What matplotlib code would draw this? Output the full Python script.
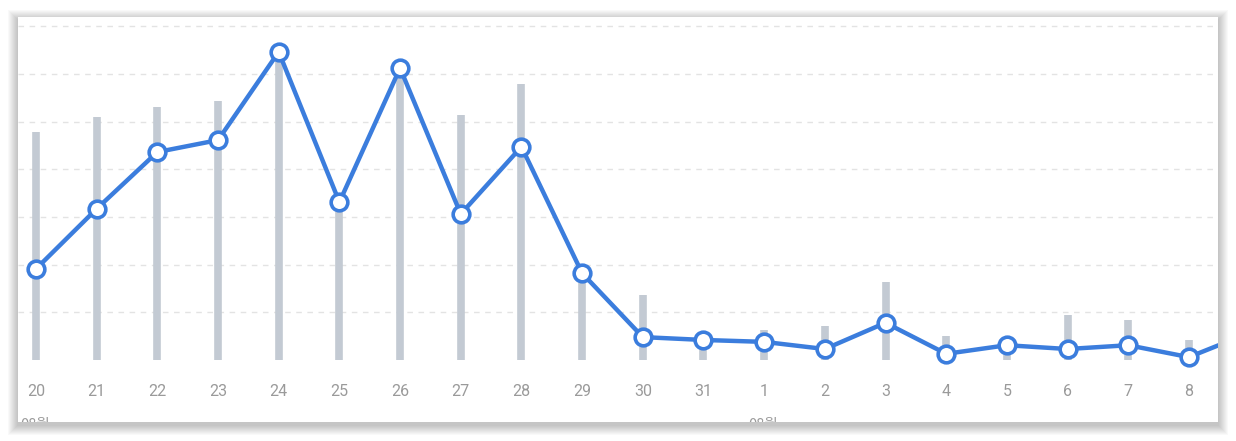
import matplotlib
matplotlib.use("Agg")
import matplotlib.pyplot as plt
from matplotlib.patches import FancyBboxPatch
import numpy as np

# days shown on the x axis (July 20 .. August 9)
days = ["20", "21", "22", "23", "24", "25", "26", "27", "28", "29", "30", "31",
        "1", "2", "3", "4", "5", "6", "7", "8", "9"]
month_labels = {0: "08월", 12: "08월"}

line_vals = [19.1, 31.7, 43.6, 46.1, 64.6, 33.1, 61.2, 30.6, 44.7, 18.2, 4.8,
             4.2, 3.8, 2.3, 7.8, 1.3, 3.1, 2.3, 3.1, 0.6, 5.7]
bar_vals = [47.8, 50.9, 53.0, 54.3, 63.0, 32.0, 61.0, 51.4, 57.9, 17.0, 13.6,
            3.5, 6.3, 7.1, 16.4, 5.0, 2.5, 9.4, 8.4, 4.2, 4.0]
grid_levels = [10, 20, 30, 40, 50, 60, 70]

W, H = 1236, 441
fig = plt.figure(figsize=(W / 100, H / 100), dpi=100)
fig.patch.set_facecolor("white")

# card (in pixel coords -> figure fraction)
cx0, cx1, cy_top, cy_bot = 18, 1218, 17, 422
left, right = cx0 / W, cx1 / W
bottom, top = 1 - cy_bot / H, 1 - cy_top / H

# soft shadow behind the card, mostly below it
for k in range(10, 0, -1):
    pad = k * 1.0
    fig.patches.append(FancyBboxPatch(
        ((cx0 - pad) / W, 1 - (cy_bot + pad + 3) / H),
        (cx1 - cx0 + 2 * pad) / W, (cy_bot - cy_top + 2 * pad) / H,
        boxstyle="square,pad=0", transform=fig.transFigure,
        facecolor="black", edgecolor="none", alpha=0.022, zorder=0))

ax = fig.add_axes([left, bottom, right - left, top - bottom])
ax.set_facecolor("white")
ax.set_zorder(1)

x = np.arange(len(days))
px = 60.68  # pixels per day
unit = 4.77  # pixels per value unit
xmax = (cx1 - 36) / px
ax.set_xlim((cx0 - 36) / px, xmax)
ax.set_ylim(-(cy_bot - 360) / unit, (360 - cy_top) / unit)

for g in grid_levels:
    ax.axhline(g, color="#e3e3e3", lw=1, ls=(0, (4, 4)), zorder=1)

ax.vlines(x, 0, bar_vals, color="#c3cad3", lw=5.5, zorder=2)
ax.plot(x, line_vals, color="#3b7ddd", lw=3.2, marker="o", ms=12,
        markerfacecolor="white", markeredgecolor="#3b7ddd", markeredgewidth=2.6,
        zorder=3)

for i, d in enumerate(days):
    if i > xmax:
        continue
    ax.text(i, -(392 - 360) / unit, d, ha="center", va="center",
            fontsize=11.5, color="#9a9a9a", family=["Roboto", "DejaVu Sans"],
            clip_on=True)
for i, m in month_labels.items():
    ax.text(i - 0.02, -(425 - 360) / unit, m, ha="center", va="center",
            fontsize=10.5, color="#9a9a9a",
            family=["Noto Sans CJK KR", "DejaVu Sans"], clip_on=True)

ax.set_xticks([])
ax.set_yticks([])
for s in ax.spines.values():
    s.set_visible(False)

fig.savefig("out.png", dpi=100, facecolor=fig.get_facecolor())
